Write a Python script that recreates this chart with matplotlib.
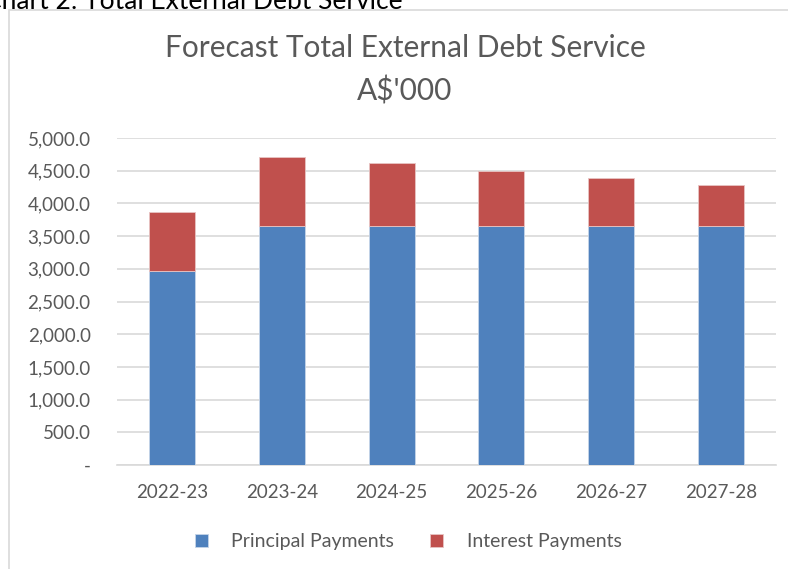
import numpy as np
import matplotlib.pyplot as plt
from matplotlib.patches import Rectangle

plt.rcParams['font.family'] = ['Lato', 'DejaVu Sans']

years = ["2022-23", "2023-24", "2024-25", "2025-26", "2026-27", "2027-28"]
principal = [2970, 3655, 3655, 3655, 3655, 3655]
interest = [900, 1055, 965, 840, 735, 625]
yticks = [0, 500, 1000, 1500, 2000, 2500, 3000, 3500, 4000, 4500, 5000]

blue = "#4f81bd"
red = "#c0504d"
grey_txt = "#595959"

fig = plt.figure(figsize=(7.88, 5.69), dpi=100)
W, H = 788, 569

# chart frame and clipped caption above it
fig.patches.append(Rectangle((9 / W, -0.1), 1.2, 1.1 - 10 / H, transform=fig.transFigure,
                             fill=False, edgecolor="#d9d9d9", linewidth=1.2))
fig.text(-0.02, 1 - 9 / H, "Chart 2: Total External Debt Service", fontsize=19,
         color="black", va="baseline", ha="left")

ax = fig.add_axes([117 / W, (H - 465) / H, (776 - 117) / W, (465 - 138) / H])
x = np.arange(len(years))
ax.bar(x, principal, width=0.42, color=blue, edgecolor="#c6d5e8", linewidth=0.6,
       label="Principal Payments", zorder=3)
ax.bar(x, interest, width=0.42, bottom=principal, color=red, edgecolor="#e8c4c3",
       linewidth=0.6, label="Interest Payments", zorder=3)

ax.set_xlim(-0.5, len(years) - 0.5)
ax.set_ylim(0, 5000)
ax.set_yticks(yticks)
ax.set_yticklabels(["-" if v == 0 else f"{v:,.1f}" for v in yticks])
ax.set_xticks(x)
ax.set_xticklabels(years)
ax.tick_params(length=0, labelsize=13.5, colors=grey_txt)
ax.tick_params(axis="y", pad=19)
ax.tick_params(axis="x", pad=14)
ax.yaxis.grid(True, color="#d9d9d9", linewidth=1.2, zorder=0)
for s in ["top", "right", "left"]:
    ax.spines[s].set_visible(False)
ax.spines["bottom"].set_color("#d9d9d9")
ax.spines["bottom"].set_linewidth(1.2)

fig.text(405 / W, 1 - 48 / H, "Forecast Total External Debt Service", fontsize=21.5,
         color=grey_txt, ha="center", va="center")
fig.text(405 / W, 1 - 91 / H, "A$'000", fontsize=21.5, color=grey_txt,
         ha="center", va="center")

fig.legend(loc="center", bbox_to_anchor=(408 / W, 1 - 542 / H), ncol=2, frameon=False,
           fontsize=14, labelcolor=grey_txt, handlelength=0.68, handleheight=0.68,
           columnspacing=1.85, handletextpad=1.2)

fig.savefig("out.png", dpi=100)
